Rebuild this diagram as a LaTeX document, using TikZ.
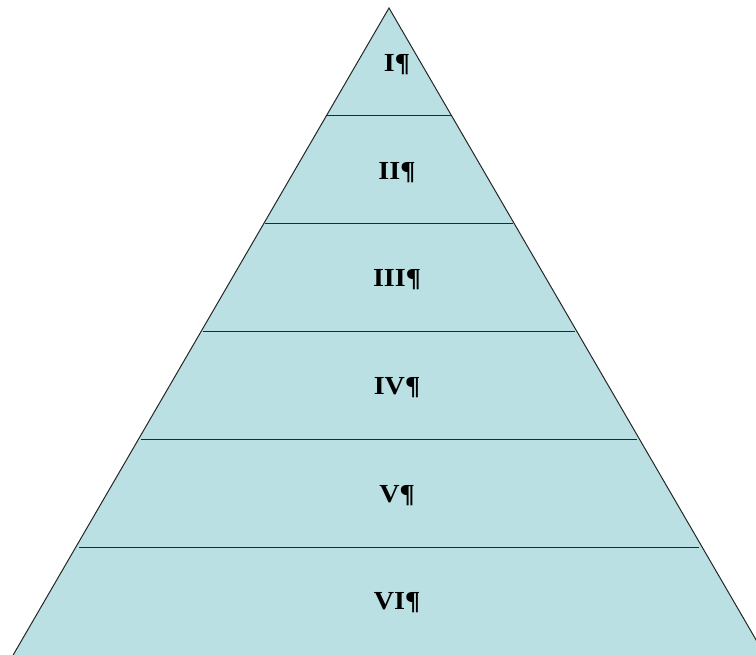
\documentclass[tikz,border=0pt]{standalone}
\usepackage{fontspec}
\setmainfont{Liberation Serif}
\newfontfamily\lblfont{Liberation Serif}[FakeStretch=1.08]
\begin{document}
\begin{tikzpicture}[x=1pt,y=1pt,
  band/.style={draw=black!85,line width=1pt},
  lbl/.style={font=\lblfont\fontsize{26}{29}\selectfont\bfseries,anchor=base,inner sep=0pt}]
\useasboundingbox (0,0) rectangle (756,655);
\clip (0,0) rectangle (756,655);
% apex at image (389,8) -> tikz (389,647); slope 0.574
\coordinate (apex) at (389,647);
\coordinate (bl) at (389-398.5,-39);
\coordinate (br) at (389+398.5,-39);
\fill[fill={rgb,255:red,186;green,224;blue,227}] (apex) -- (bl) -- (br) -- cycle;
\draw[band] (bl) -- (apex) -- (br);
\foreach \y/\h [count=\i] in {116/62,224/124,332/186,440/248,548/310}{
  \coordinate (L\i) at (389-\h,655-\y);
  \coordinate (R\i) at (389+\h,655-\y);
  \draw[band] (L\i) -- (R\i);
}
\node[lbl] (t1) at (397,655-72) {I¶};
\node[lbl] (t2) at (397,655-180) {II¶};
\node[lbl] (t3) at (397,655-287) {III¶};
\node[lbl] (t4) at (397,655-395) {IV¶};
\node[lbl] (t5) at (397,655-503) {V¶};
\node[lbl] (t6) at (397,655-610) {VI¶};
\end{tikzpicture}
\end{document}
